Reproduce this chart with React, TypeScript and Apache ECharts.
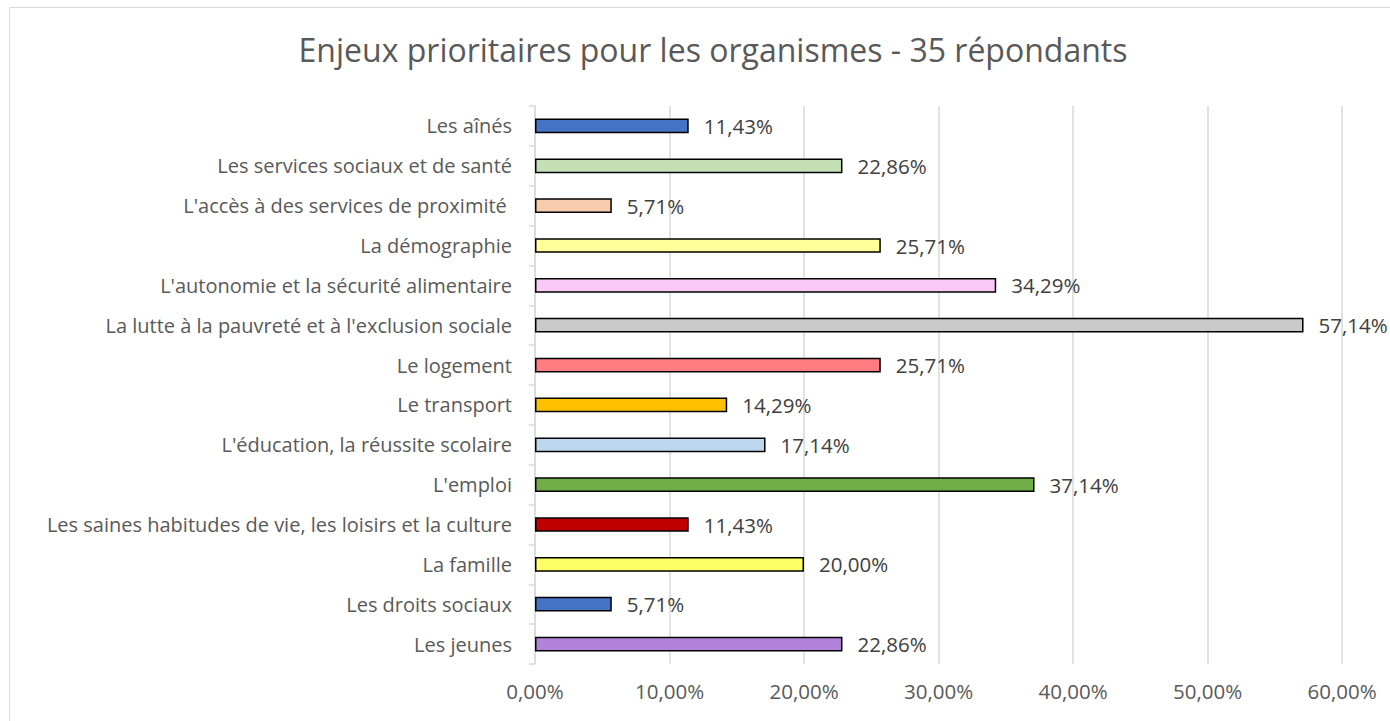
import React, { useEffect, useRef } from "react";
import * as echarts from "echarts";

const categories = [
  "Les aînés",
  "Les services sociaux et de santé",
  "L'accès à des services de proximité ",
  "La démographie",
  "L'autonomie et la sécurité alimentaire",
  "La lutte à la pauvreté et à l'exclusion sociale",
  "Le logement",
  "Le transport",
  "L'éducation, la réussite scolaire",
  "L'emploi",
  "Les saines habitudes de vie, les loisirs et la culture",
  "La famille",
  "Les droits sociaux",
  "Les jeunes",
];

const values = [11.43, 22.86, 5.71, 25.71, 34.29, 57.14, 25.71, 14.29, 17.14, 37.14, 11.43, 20.0, 5.71, 22.86];

const barColors = [
  "#4472C4",
  "#C5E0B4",
  "#F8CBAD",
  "#FFFF99",
  "#F9C8F6",
  "#C9C9C9",
  "#FF7C80",
  "#FFC000",
  "#BDD7EE",
  "#70AD47",
  "#C00000",
  "#FFFF66",
  "#4472C4",
  "#B383D9",
];

const xTicks = [0, 10, 20, 30, 40, 50, 60];

const fmt = (v: number) => v.toFixed(2).replace(".", ",") + "%";

export default function App() {
  const ref = useRef<HTMLDivElement>(null);
  useEffect(() => {
    if (!ref.current) return;
    const chart = echarts.init(ref.current, null, { renderer: "svg" });
    const font = "'Open Sans', 'Noto Sans', sans-serif";
    chart.setOption({
      animation: false,
      backgroundColor: "#ffffff",
      textStyle: { fontFamily: font },
      title: {
        text: "Enjeux prioritaires pour les organismes - 35 répondants",
        left: 708,
        textAlign: "center",
        top: 28,
        textStyle: { fontFamily: font, fontSize: 32, fontWeight: "normal", color: "#595959" },
      },
      graphic: [
        {
          type: "rect",
          shape: { x: 9.5, y: 7.5, width: 1400, height: 730 },
          style: { fill: "none", stroke: "#d9d9d9", lineWidth: 1 },
          silent: true,
        },
      ],
      grid: { left: 535, right: 48, top: 106, bottom: 57 },
      xAxis: {
        type: "value",
        min: xTicks[0],
        max: xTicks[xTicks.length - 1],
        interval: 10,
        axisLine: { show: false },
        axisTick: { show: false },
        splitLine: { show: true, lineStyle: { color: "#d9d9d9", width: 1.5 } },
        axisLabel: {
          formatter: (v: number) => v.toFixed(2).replace(".", ",") + "%",
          fontSize: 20.5,
          color: "#595959",
          margin: 16,
          fontFamily: font,
        },
      },
      yAxis: {
        type: "category",
        data: categories,
        inverse: true,
        axisLine: { show: true, lineStyle: { color: "#d9d9d9", width: 1.5 } },
        axisTick: { show: true, length: 6, lineStyle: { color: "#d9d9d9", width: 1.5 } },
        axisLabel: { fontSize: 20, color: "#595959", margin: 23, fontFamily: font },
      },
      series: [
        {
          type: "bar",
          data: values.map((v, i) => ({
            value: v,
            itemStyle: { color: barColors[i], borderColor: "#000000", borderWidth: 1.5 },
          })),
          barWidth: "37%",
          label: {
            show: true,
            position: "right",
            distance: 15,
            formatter: (p: any) => fmt(p.value),
            fontSize: 20.5,
            color: "#404040",
            fontFamily: font,
          },
        },
      ],
    });
    return () => chart.dispose();
  }, []);
  return (
    <div
      ref={ref}
      style={{ position: "fixed", left: 0, top: 0, width: 1390, height: 721 }}
    />
  );
}
